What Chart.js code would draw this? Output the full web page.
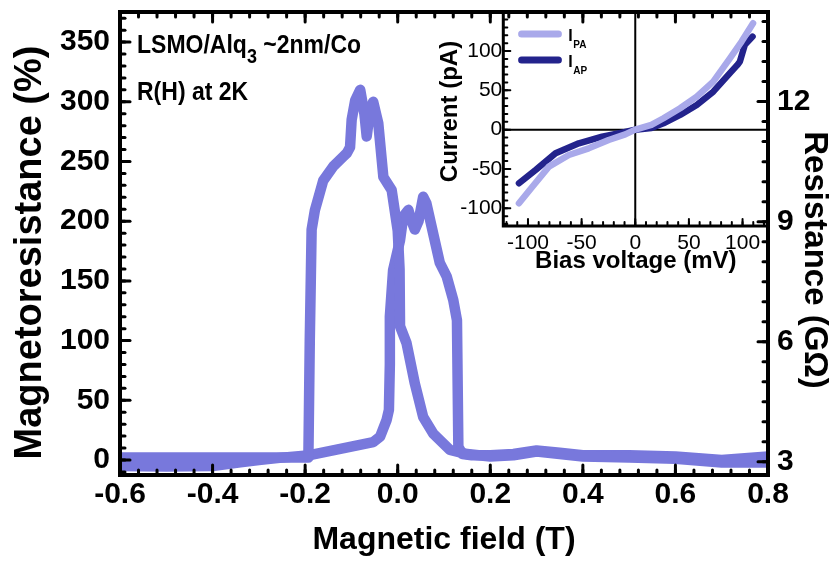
<!DOCTYPE html>
<html>
<head>
<meta charset="utf-8">
<script src="https://cdn.jsdelivr.net/npm/chart.js@4/dist/chart.umd.min.js"></script>
<style>
html, body { margin: 0; padding: 0; background: #fff; }
#wrap { position: relative; width: 835px; height: 562px; overflow: hidden; }
#main { position: absolute; left: 0; top: 0; }
#inset { position: absolute; left: 420px; top: 0; }
</style>
</head>
<body>
<div id="wrap">
  <canvas id="main" width="835" height="562" style="width:835px;height:562px"></canvas>
  <canvas id="inset" width="360" height="290" style="width:360px;height:290px"></canvas>
</div>
<script>
// ===== Main chart data: magnetoresistance loop =====
// Field sweep from +0.8 T down to -0.6 T
const fieldDown = [0.80, 0.70, 0.60, 0.50, 0.40, 0.35, 0.30, 0.25, 0.20, 0.15, 0.113, 0.077, 0.055, 0.037, 0.019, 0.005, 0.004, 0.000, -0.013, -0.031, -0.042, -0.053, -0.060, -0.067, -0.072, -0.081, -0.092, -0.0995, -0.103, -0.110, -0.118, -0.139, -0.161, -0.179, -0.186, -0.190, -0.193, -0.25, -0.30, -0.40, -0.50, -0.60];
const mrDown    = [-2, -2, 1, 2, 3, 5, 7, 4, 3, 5, 8.4, 22, 36, 64, 98, 112, 160, 192, 226, 237, 282, 300, 292, 271, 290, 310, 301, 285, 262, 257, 254, 246, 234, 209, 193, 100, 2, 2, 2, 2, 2, 2];
// Field sweep from -0.6 T up to +0.8 T
const fieldUp = [-0.60, -0.50, -0.40, -0.34, -0.30, -0.25, -0.19, -0.103, -0.053, -0.038, -0.024, -0.019, -0.017, -0.017, -0.010, 0.005, 0.012, 0.023, 0.030, 0.037, 0.045, 0.055, 0.062, 0.070, 0.091, 0.106, 0.120, 0.128, 0.131, 0.140, 0.160, 0.20, 0.25, 0.30, 0.35, 0.40, 0.50, 0.60, 0.70, 0.80];
const mrUp    = [-5, -5.5, -5, -2, 0, 2, 4, 11, 15, 19.5, 33.5, 42, 80, 120, 159, 184, 204, 209.5, 200, 193, 200, 220.5, 215, 201, 165, 153.5, 134, 117, 11, 5, 4, 4, 5, 8, 6, 4, 4, 3, 0, 3];

const fieldTicks = [-0.6, -0.4, -0.2, 0.0, 0.2, 0.4, 0.6, 0.8];
const fieldTickLabels = ['-0.6', '-0.4', '-0.2', '0.0', '0.2', '0.4', '0.6', '0.8'];
const mrTicks = [0, 50, 100, 150, 200, 250, 300, 350];
const mrTickLabels = ['0', '50', '100', '150', '200', '250', '300', '350'];
const resTicks = [3, 6, 9, 12];
const resTickLabels = ['3', '6', '9', '12'];
const fieldRange = [-0.6, 0.8];
const mrRange = [-12.56, 375.2];
const resRange = [2.667, 14.24];
const fieldTitle = 'Magnetic field (T)';
const mrTitle = 'Magnetoresistance (%)';
const resTitle = 'Resistance (GΩ)';

const sampleLabel = ['LSMO/Alq', '3', ' ~2nm/Co'];
const conditionLabel = 'R(H) at 2K';

// ===== Inset data: I-V curves =====
const biasPA    = [-108.4, -95.9, -80.5, -61.9, -43.4, -24.8, -9.3, 0, 15.0, 26.3, 41.8, 57.3, 72.7, 88.2, 99.1, 109.8];
const currentPA = [-93.6, -72.5, -47.0, -32.2, -23.7, -13.1, -6.0, 0, 6.0, 14.5, 27.2, 42.0, 61.0, 90.8, 112.0, 135.4];
const biasAP    = [-108.4, -92.9, -74.3, -52.6, -30.9, -12.4, 0, 15.0, 26.3, 41.8, 57.3, 72.7, 88.2, 95.0, 97.5, 102.1, 109.3];
const currentAP = [-68.2, -51.3, -30.0, -17.3, -8.9, -3.8, 0, 2.0, 8.1, 18.7, 31.4, 48.3, 71.8, 82.0, 86.5, 107.8, 118.3];
const biasTicks = [-100, -50, 0, 50, 100];
const biasTickLabels = ['-100', '-50', '0', '50', '100'];
const currentTicks = [-100, -50, 0, 50, 100];
const currentTickLabels = ['-100', '-50', '0', '50', '100'];
const biasRange = [-123, 124];
const currentRange = [-122.5, 150];
const biasTitle = 'Bias voltage (mV)';
const currentTitle = 'Current (pA)';
const legendNames = [['I', 'PA'], ['I', 'AP']];

// ===== Styling =====
const FAMILY = "'Liberation Sans', Arial, Helvetica, sans-serif";
Chart.defaults.font.family = FAMILY;
Chart.defaults.color = '#000';
const MAIN_COLOR = '#7878dc';
const PA_COLOR = '#a9a9ea';
const AP_COLOR = '#23238c';

function zeroPad(s) { s.paddingTop = 0; s.paddingBottom = 0; s.paddingLeft = 0; s.paddingRight = 0; }
function setTicks(values) { return s => { s.ticks = values.map(v => ({ value: v })); }; }
const noGrid = { display: false, drawTicks: false, tickLength: 0 };

// vertical axis title, drawn centred at (cx, cy); angle -90 reads upward, +90 downward
function drawVerticalTitle(ctx, text, font, cx, cy, angle) {
  ctx.save();
  ctx.font = font; ctx.fillStyle = '#000';
  ctx.textAlign = 'center'; ctx.textBaseline = 'middle';
  ctx.translate(cx, cy); ctx.rotate(angle);
  ctx.fillText(text, 0, 0);
  ctx.restore();
}

// frame + inward ticks drawn from the scales
function makeFramePlugin(cfg) {
  return {
    id: 'frame',
    afterDatasetsDraw(chart) {
      const { ctx, chartArea: a } = chart;
      ctx.save();
      ctx.strokeStyle = '#000';
      ctx.lineCap = 'round';
      ctx.lineWidth = cfg.tickWidth;
      cfg.sides.forEach(sd => {
        const sc = chart.scales[sd.scale];
        const items = [];
        const start = Math.ceil((sc.min - 1e-9) / sd.minorStep);
        const end = Math.floor((sc.max + 1e-9) / sd.minorStep);
        for (let i = start; i <= end; i++) items.push([i * sd.minorStep, sd.minLen]);
        sd.majors.forEach(v => items.push([v, sd.majLen]));
        items.forEach(([v, len]) => {
          const p = sc.getPixelForValue(v);
          ctx.beginPath();
          if (sd.side === 'bottom') { ctx.moveTo(p, a.bottom); ctx.lineTo(p, a.bottom - len); }
          else if (sd.side === 'top') { ctx.moveTo(p, a.top); ctx.lineTo(p, a.top + len); }
          else if (sd.side === 'left') { ctx.moveTo(a.left, p); ctx.lineTo(a.left + len, p); }
          else { ctx.moveTo(a.right, p); ctx.lineTo(a.right - len, p); }
          ctx.stroke();
        });
      });
      ctx.lineCap = 'butt';
      ctx.lineJoin = 'miter';
      ctx.lineWidth = cfg.frameWidth;
      ctx.strokeRect(a.left, a.top, a.right - a.left, a.bottom - a.top);
      ctx.restore();
    }
  };
}

const annotatePlugin = {
  id: 'annotate',
  afterDraw(chart) {
    const { ctx, chartArea: a } = chart;
    ctx.save();
    ctx.fillStyle = '#000';
    ctx.textBaseline = 'alphabetic';
    const big = 'bold 23px ' + FAMILY, small = 'bold 18px ' + FAMILY;
    const draw = (txt, font, x, y) => {
      ctx.save(); ctx.font = font; ctx.translate(x, y); ctx.scale(1, 1.1); ctx.fillText(txt, 0, 0);
      const w = ctx.measureText(txt).width; ctx.restore(); return w;
    };
    let x = a.left + 17;
    const y1 = a.top + 41;
    x += draw(sampleLabel[0], big, x, y1);
    x += draw(sampleLabel[1], small, x, y1 + 10);
    draw(sampleLabel[2], big, x, y1);
    draw(conditionLabel, big, a.left + 17, a.top + 88);
    ctx.restore();
    // axis titles
    const midY = (a.top + a.bottom) / 2;
    drawVerticalTitle(ctx, mrTitle, 'bold 38px ' + FAMILY, chart.scales.y.left + 31, midY + 9, -Math.PI / 2);
    drawVerticalTitle(ctx, resTitle, 'bold 33px ' + FAMILY, chart.scales.y2.right - 21, midY + 16.5, Math.PI / 2);
  }
};

const lineStyle = (color, w) => ({
  showLine: true, borderColor: color, backgroundColor: color, borderWidth: w,
  pointRadius: 0, pointHoverRadius: 0, tension: 0,
  borderJoinStyle: 'round', borderCapStyle: 'round', fill: false
});

new Chart(document.getElementById('main'), {
  type: 'scatter',
  data: {
    datasets: [
      Object.assign({ label: 'Sweep down', data: fieldDown.map((x, i) => ({ x, y: mrDown[i] })) }, lineStyle(MAIN_COLOR, 10.5)),
      Object.assign({ label: 'Sweep up', data: fieldUp.map((x, i) => ({ x, y: mrUp[i] })) }, lineStyle(MAIN_COLOR, 10.5))
    ]
  },
  options: {
    responsive: false, animation: false,
    layout: { padding: { top: 12, left: 0, right: 0, bottom: 0 } },
    plugins: { legend: { display: false }, tooltip: { enabled: false } },
    scales: {
      x: {
        type: 'linear', position: 'bottom', min: fieldRange[0], max: fieldRange[1],
        afterBuildTicks: setTicks(fieldTicks),
        afterFit: s => { s.height = 87; zeroPad(s); },
        grid: noGrid, border: { display: false },
        ticks: { autoSkip: false, maxRotation: 0, padding: 2, font: { size: 30, weight: 'bold' }, color: '#000',
                 callback: (v, i) => fieldTickLabels[i] },
        title: { display: true, text: fieldTitle, color: '#000',
                 font: { size: 32, weight: 'bold', lineHeight: 1 }, padding: { top: 0, bottom: 6 } }
      },
      y: {
        type: 'linear', position: 'left', min: mrRange[0], max: mrRange[1],
        afterBuildTicks: setTicks(mrTicks),
        afterFit: s => { s.width = 120; zeroPad(s); },
        grid: noGrid, border: { display: false },
        ticks: { autoSkip: false, padding: 10, font: { size: 30, weight: 'bold' }, color: '#000',
                 callback: (v, i) => mrTickLabels[i] },
        title: { display: false, text: mrTitle }
      },
      y2: {
        type: 'linear', position: 'right', min: resRange[0], max: resRange[1],
        afterBuildTicks: setTicks(resTicks),
        afterFit: s => { s.width = 67; zeroPad(s); },
        grid: noGrid, border: { display: false },
        ticks: { autoSkip: false, padding: 9, font: { size: 30, weight: 'bold' }, color: '#000',
                 callback: (v, i) => resTickLabels[i] },
        title: { display: false, text: resTitle }
      }
    }
  },
  plugins: [makeFramePlugin({
    frameWidth: 4, tickWidth: 3,
    sides: [
      { scale: 'x', side: 'bottom', majors: fieldTicks, minorStep: 0.04, majLen: 10, minLen: 5 },
      { scale: 'x', side: 'top', majors: fieldTicks, minorStep: 0.04, majLen: 10, minLen: 5 },
      { scale: 'y', side: 'left', majors: mrTicks, minorStep: 10, majLen: 10, minLen: 5 },
      { scale: 'y2', side: 'right', majors: resTicks, minorStep: 0.5, majLen: 10, minLen: 5 }
    ]
  }), annotatePlugin]
});

// ===== Inset =====
const zeroLinesPlugin = {
  id: 'zeroLines',
  beforeDatasetsDraw(chart) {
    const { ctx, chartArea: a, scales } = chart;
    const x0 = scales.x.getPixelForValue(0), y0 = scales.y.getPixelForValue(0);
    ctx.save();
    ctx.strokeStyle = '#000'; ctx.lineWidth = 2;
    ctx.beginPath();
    ctx.moveTo(a.left, y0); ctx.lineTo(a.right, y0);
    ctx.moveTo(x0, a.top); ctx.lineTo(x0, a.bottom);
    ctx.stroke();
    ctx.restore();
  }
};

const insetLegendPlugin = {
  id: 'insetLegend',
  afterDraw(chart) {
    const { ctx, chartArea: a } = chart;
    ctx.save();
    chart.data.datasets.forEach((ds, i) => {
      const y = a.top + 22.3 + i * 26;
      ctx.strokeStyle = ds.borderColor; ctx.lineWidth = 7; ctx.lineCap = 'round';
      ctx.beginPath(); ctx.moveTo(a.left + 18.3, y); ctx.lineTo(a.left + 55.1, y); ctx.stroke();
      ctx.fillStyle = '#000'; ctx.textBaseline = 'alphabetic';
      ctx.font = 'bold 16px ' + FAMILY;
      const tx = a.left + 65;
      ctx.fillText(legendNames[i][0], tx, y + 6.5);
      const w = ctx.measureText(legendNames[i][0]).width;
      ctx.font = 'bold 10px ' + FAMILY;
      ctx.fillText(legendNames[i][1], tx + w + 0.5, y + 13.5);
    });
    ctx.restore();
    drawVerticalTitle(ctx, currentTitle, 'bold 24px ' + FAMILY, chart.scales.y.left + 30.6, 111.5, -Math.PI / 2);
  }
};

new Chart(document.getElementById('inset'), {
  type: 'scatter',
  data: {
    datasets: [
      Object.assign({ label: 'I_PA', data: biasPA.map((x, i) => ({ x, y: currentPA[i] })) }, lineStyle(PA_COLOR, 6.5)),
      Object.assign({ label: 'I_AP', data: biasAP.map((x, i) => ({ x, y: currentAP[i] })) }, lineStyle(AP_COLOR, 6.5))
    ]
  },
  options: {
    responsive: false, animation: false,
    layout: { padding: { top: 11.7, right: 11.7, left: 0, bottom: 0 } },
    plugins: { legend: { display: false }, tooltip: { enabled: false } },
    scales: {
      x: {
        type: 'linear', position: 'bottom', min: biasRange[0], max: biasRange[1],
        afterBuildTicks: setTicks(biasTicks),
        afterFit: s => { s.height = 64; zeroPad(s); },
        grid: noGrid, border: { display: false },
        ticks: { autoSkip: false, maxRotation: 0, padding: 4.5, font: { size: 21 }, color: '#000',
                 callback: (v, i) => biasTickLabels[i] },
        title: { display: true, text: biasTitle, color: '#000',
                 font: { size: 24, weight: 'bold', lineHeight: 1 }, padding: { top: 0, bottom: 17 } }
      },
      y: {
        type: 'linear', position: 'left', min: currentRange[0], max: currentRange[1],
        afterBuildTicks: setTicks(currentTicks),
        afterFit: s => { s.width = 83.3; zeroPad(s); },
        grid: noGrid, border: { display: false },
        ticks: { autoSkip: false, padding: 1, font: { size: 21 }, color: '#000',
                 callback: (v, i) => currentTickLabels[i] },
        title: { display: false, text: currentTitle }
      }
    }
  },
  plugins: [zeroLinesPlugin, makeFramePlugin({
    frameWidth: 3, tickWidth: 2,
    sides: [
      { scale: 'x', side: 'bottom', majors: biasTicks, minorStep: 10, majLen: 7, minLen: 4 },
      { scale: 'y', side: 'left', majors: currentTicks, minorStep: 10, majLen: 7, minLen: 4 }
    ]
  }), insetLegendPlugin]
});
</script>
</body>
</html>
